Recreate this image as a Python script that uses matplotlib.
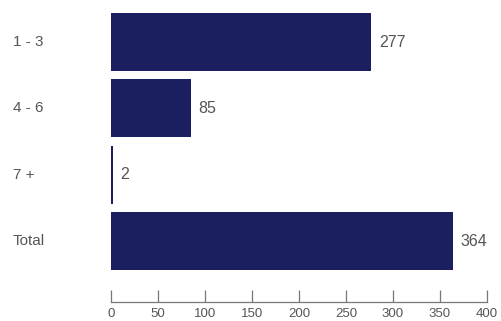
import matplotlib.pyplot as plt

categories = ["1 - 3", "4 - 6", "7 +", "Total"]
values = [277, 85, 2, 364]
xticks = [0, 50, 100, 150, 200, 250, 300, 350, 400]

bar_color = "#1b1f5f"
text_color = "#555555"
plt.rcParams['font.family'] = ['Liberation Sans Narrow', 'Liberation Sans', 'DejaVu Sans']

W, H = 502, 321
fig = plt.figure(figsize=(W / 100, H / 100), dpi=100)
ax = fig.add_axes([111 / W, (H - 302) / H, (487 - 111) / W, (302 - 5) / H])

pos = list(range(len(categories)))
ax.barh(pos, values, height=0.875, color=bar_color)
ax.set_ylim(3.92, -0.56)
ax.set_xlim(0, 400)

for p, v in zip(pos, values):
    ax.text(v + 8, p, str(v), va='center', ha='left', fontsize=11.5, color=text_color)
for p, c in zip(pos, categories):
    ax.text(13 / W, ax.transData.transform((0, p))[1] / fig.dpi / fig.get_size_inches()[1],
            c, transform=fig.transFigure, va='center', ha='left', fontsize=11, color=text_color)

for s in ['top', 'right', 'left']:
    ax.spines[s].set_visible(False)
ax.spines['bottom'].set_color('#777777')
ax.spines['bottom'].set_linewidth(0.9)
ax.set_yticks([])
ax.set_xticks(xticks)
ax.tick_params(axis='x', direction='in', length=9, width=0.9, color='#777777',
               labelsize=9.5, labelcolor=text_color, pad=4)

fig.savefig("out.png", dpi=100)
